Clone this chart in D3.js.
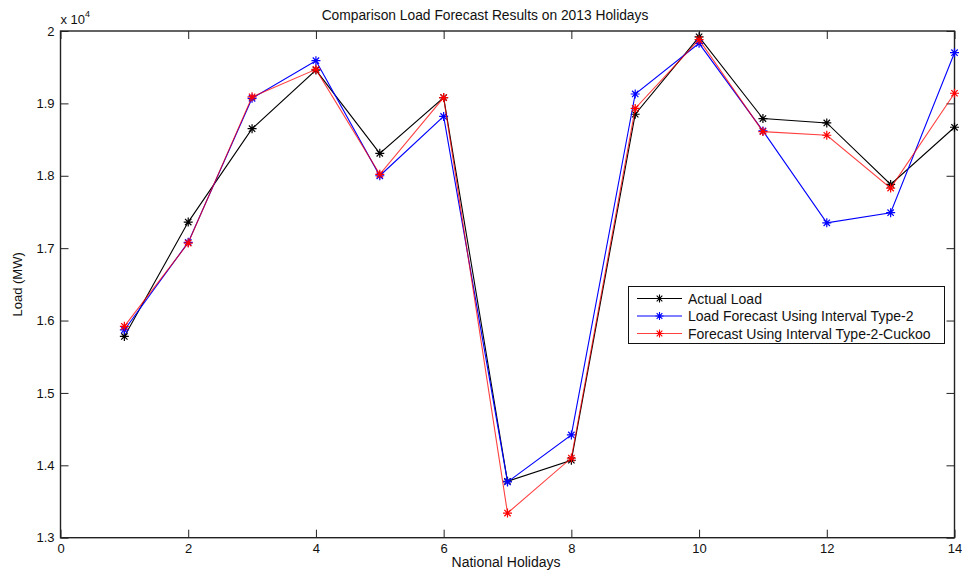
<!DOCTYPE html>
<html>
<head>
<meta charset="utf-8">
<script src="https://cdn.jsdelivr.net/npm/d3@7"></script>
<style>
  body { margin: 0; background: #fff; }
  svg { display: block; font-family: "Liberation Sans", Arial, sans-serif; }
</style>
</head>
<body>
<svg id="chart" width="962" height="571"></svg>
<script>
// holiday index 1..14, loads in MW
const holidays = [1, 2, 3, 4, 5, 6, 7, 8, 9, 10, 11, 12, 13, 14]
const actualLoad = [15780, 17360, 18650, 19460, 18310, 19080, 13780, 14070, 18850, 19920, 18790, 18730, 17880, 18670]
const type2Load = [15870, 17080, 19070, 19590, 18000, 18820, 13770, 14420, 19130, 19830, 18620, 17350, 17490, 19700]
const cuckooLoad = [15920, 17070, 19090, 19470, 18020, 19080, 13340, 14100, 18930, 19880, 18610, 18560, 17830, 19140]

const xTicks = [0, 2, 4, 6, 8, 10, 12, 14]
const yTicks = [13000, 14000, 15000, 16000, 17000, 18000, 19000, 20000]

const seriesNames = ["Actual Load", "Load Forecast Using Interval Type-2", "Forecast Using Interval Type-2-Cuckoo"]
const seriesColors = ["#000000", "#0000ff", "#ff0000"]
const seriesOpacity = [1, 1, 0.75]

const plotL = 60.5, plotR = 954.5, plotT = 31, plotB = 537.7

const svg = d3.select("#chart")

const x = d3.scaleLinear().domain([0, 14]).range([plotL, plotR])
const y = d3.scaleLinear().domain([13000, 20000]).range([plotB, plotT])

const series = [actualLoad, type2Load, cuckooLoad].map((vals, i) => ({
  name: seriesNames[i],
  color: seriesColors[i],
  opacity: seriesOpacity[i],
  points: holidays.map((h, j) => ({x: h, y: vals[j]}))
}))

// axes (ticks pointing inside, box on all four sides)
const tickLen = 8
svg.append("g")
  .attr("transform", `translate(0,${plotB})`)
  .call(d3.axisBottom(x).tickValues(xTicks).tickSizeInner(-tickLen).tickSizeOuter(0).tickPadding(6).tickFormat(d3.format("d")))
svg.append("g")
  .attr("transform", `translate(0,${plotT})`)
  .call(d3.axisTop(x).tickValues(xTicks).tickSizeInner(-tickLen).tickSizeOuter(0).tickFormat(""))
svg.append("g")
  .attr("transform", `translate(${plotL},0)`)
  .call(d3.axisLeft(y).tickValues(yTicks).tickSizeInner(-tickLen).tickSizeOuter(0).tickPadding(6).tickFormat(d => d3.format("~g")(d / 1e4)))
svg.append("g")
  .attr("transform", `translate(${plotR},0)`)
  .call(d3.axisRight(y).tickValues(yTicks).tickSizeInner(-tickLen).tickSizeOuter(0).tickFormat(""))

svg.selectAll(".domain").remove()
svg.selectAll(".tick line").attr("stroke", "#222").attr("stroke-width", 1)
svg.selectAll(".tick text").attr("font-size", 13).attr("fill", "#111")
  .attr("font-family", "Liberation Sans, Arial, sans-serif")

svg.append("rect")
  .attr("x", plotL).attr("y", plotT)
  .attr("width", plotR - plotL).attr("height", plotB - plotT)
  .attr("fill", "none").attr("stroke", "#222").attr("stroke-width", 1.4)

// exponent label
const expo = svg.append("text").attr("x", plotL).attr("y", 24).attr("font-size", 13).attr("fill", "#111")
expo.append("tspan").text("x 10")
expo.append("tspan").attr("dy", -7).attr("font-size", 9).text("4")

svg.append("text")
  .attr("x", 485).attr("y", 20)
  .attr("text-anchor", "middle").attr("font-size", 13.8).attr("fill", "#111")
  .text("Comparison Load Forecast Results on 2013 Holidays")

svg.append("text")
  .attr("x", 506).attr("y", 567)
  .attr("text-anchor", "middle").attr("font-size", 14).attr("fill", "#111")
  .text("National Holidays")

svg.append("text")
  .attr("transform", `translate(22,${(plotT + plotB) / 2}) rotate(-90)`)
  .attr("text-anchor", "middle").attr("font-size", 13).attr("fill", "#111")
  .text("Load (MW)")

// asterisk marker like matlab '*'
function star(r) {
  const d = r * 0.7071
  return `M${-r},0L${r},0M0,${-r}L0,${r}M${-d},${-d}L${d},${d}M${-d},${d}L${d},${-d}`
}

const line = d3.line().x(d => x(d.x)).y(d => y(d.y))

const plot = svg.append("g")
series.forEach(s => {
  plot.append("path")
    .datum(s.points)
    .attr("fill", "none")
    .attr("stroke", s.color)
    .attr("stroke-opacity", s.opacity)
    .attr("stroke-width", 1.1)
    .attr("d", line)
  plot.selectAll(null)
    .data(s.points)
    .enter().append("path")
    .attr("transform", d => `translate(${x(d.x)},${y(d.y)})`)
    .attr("d", star(4.5))
    .attr("fill", "none")
    .attr("stroke", s.color)
    .attr("stroke-width", 1.2)
})

// legend
const lg = svg.append("g")
lg.append("rect")
  .attr("x", 628.5).attr("y", 286.5)
  .attr("width", 316).attr("height", 57)
  .attr("fill", "#fff").attr("stroke", "#111").attr("stroke-width", 1)
series.forEach((s, i) => {
  const ly = 298.5 + i * 17.5
  lg.append("line")
    .attr("x1", 637).attr("x2", 682).attr("y1", ly).attr("y2", ly)
    .attr("stroke", s.color).attr("stroke-opacity", s.opacity).attr("stroke-width", 1.1)
  lg.append("path")
    .attr("transform", `translate(659.5,${ly})`)
    .attr("d", star(4))
    .attr("fill", "none").attr("stroke", s.color).attr("stroke-width", 1.1)
  lg.append("text")
    .attr("x", 688).attr("y", ly + 5)
    .attr("font-size", 14).attr("fill", "#111")
    .text(s.name)
})
</script>
</body>
</html>
